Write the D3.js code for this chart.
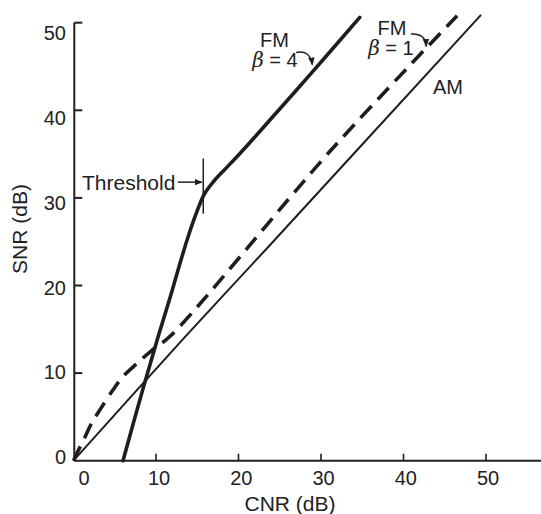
<!DOCTYPE html>
<html>
<head>
<meta charset="utf-8">
<script src="https://cdn.jsdelivr.net/npm/d3@7"></script>
<style>
  html, body { margin: 0; padding: 0; background: #fff; }
  svg { display: block; }
  text { font-family: "Liberation Sans", Arial, Helvetica, sans-serif; fill: #222; }
</style>
</head>
<body>
<svg id="chart" width="541" height="514"></svg>
<script>
// ---- Data ----
const xTicks = [0, 10, 20, 30, 40, 50];
const yTicks = [0, 10, 20, 30, 40, 50];

// FM, beta = 4 (solid, thick)
const fm4CNR = [6.0, 8.3, 10.3, 11.7, 12.9, 13.9, 14.9, 15.9, 17.0, 18.5, 20.2, 22.6, 28.7, 34.7];
const fm4SNR = [0.0, 7.8, 14.3, 18.6, 22.5, 25.6, 28.3, 30.5, 31.9, 33.4, 35.1, 37.6, 44.1, 50.6];

// FM, beta = 1 (dashed)
const fm1CNR = [0.0, 0.6, 1.4, 2.2, 3.2, 4.8, 6.0, 7.7, 9.5, 11.7, 31.45, 46.5];
const fm1SNR = [0.0, 1.2, 2.7, 4.3, 5.8, 8.1, 9.6, 11.1, 12.6, 14.2, 35.7, 50.8];

// AM (solid, thin)
const amCNR = [0.0, 13.3, 23.6, 49.4];
const amSNR = [0.0, 13.9, 24.4, 50.9];

// ---- Layout ----
const svg = d3.select("#chart");
const x = d3.scaleLinear().domain([0, 50]).range([73.5, 486]);
const y = d3.scaleLinear().domain([0, 50]).range([460.7, 22.7]);
// label placement scales (labels in the reference are not exactly at the ticks)
const xLab = d3.scaleLinear().domain([0, 10, 50]).range([84, 159, 488]);
const yLab = d3.scaleLinear().domain([0, 50]).range([457, 33]);

const ink = "#1e1e1e";

// arrowhead marker
const defs = svg.append("defs");
defs.append("marker")
  .attr("id", "arr")
  .attr("viewBox", "0 0 10 10")
  .attr("refX", 9).attr("refY", 5)
  .attr("markerWidth", 8).attr("markerHeight", 8)
  .attr("markerUnits", "userSpaceOnUse")
  .attr("orient", "auto")
  .append("path").attr("d", "M0,1 L10,5 L0,9 Z").attr("fill", ink);

// ---- Axes ----
const axisX0 = x(0) + 0.8;
svg.append("line")
  .attr("x1", axisX0).attr("x2", axisX0)
  .attr("y1", y(50)).attr("y2", y(0))
  .attr("stroke", ink).attr("stroke-width", 2);
svg.append("line")
  .attr("x1", axisX0).attr("x2", 541)
  .attr("y1", y(0)).attr("y2", y(0))
  .attr("stroke", ink).attr("stroke-width", 2);

// y ticks (pointing inward)
svg.selectAll(".yt").data(yTicks.filter(d => d > 0)).enter().append("line")
  .attr("x1", axisX0).attr("x2", axisX0 + 8)
  .attr("y1", d => y(d)).attr("y2", d => y(d))
  .attr("stroke", ink).attr("stroke-width", 2);
// x ticks (pointing inward)
svg.selectAll(".xt").data(xTicks.filter(d => d > 0)).enter().append("line")
  .attr("x1", d => x(d)).attr("x2", d => x(d))
  .attr("y1", y(0)).attr("y2", y(0) - 7)
  .attr("stroke", ink).attr("stroke-width", 1.6);

// tick labels
svg.selectAll(".yl").data(yTicks).enter().append("text")
  .attr("x", 66).attr("y", d => yLab(d)).attr("dy", "0.36em")
  .attr("text-anchor", "end").attr("font-size", 20)
  .text(d => d);
svg.selectAll(".xl").data(xTicks).enter().append("text")
  .attr("x", d => xLab(d)).attr("y", 485)
  .attr("text-anchor", "middle").attr("font-size", 20)
  .text(d => d);

// axis titles
svg.append("text")
  .attr("x", 290).attr("y", 511)
  .attr("text-anchor", "middle").attr("font-size", 21)
  .text("CNR (dB)");
svg.append("text")
  .attr("transform", "translate(26.5,229) rotate(-90)")
  .attr("text-anchor", "middle").attr("font-size", 21)
  .text("SNR (dB)");

// ---- Curves ----
const line = d3.line().x(d => x(d[0])).y(d => y(d[1])).curve(d3.curveCatmullRom.alpha(0.5));
const zip = (a, b) => a.map((v, i) => [v, b[i]]);

svg.append("path").datum(zip(amCNR, amSNR))
  .attr("d", line).attr("fill", "none")
  .attr("stroke", ink).attr("stroke-width", 2);

svg.append("path").datum(zip(fm1CNR, fm1SNR))
  .attr("d", line).attr("fill", "none")
  .attr("stroke", ink).attr("stroke-width", 3.6)
  .attr("stroke-dasharray", "16,9");

svg.append("path").datum(zip(fm4CNR, fm4SNR))
  .attr("d", line).attr("fill", "none")
  .attr("stroke", ink).attr("stroke-width", 3.6)
  .attr("stroke-linecap", "round");

// ---- Annotations ----
// Threshold marker
svg.append("line")
  .attr("x1", x(15.73)).attr("x2", x(15.73))
  .attr("y1", y(34.5)).attr("y2", y(28.2))
  .attr("stroke", ink).attr("stroke-width", 1.5);
svg.append("line")
  .attr("x1", x(12.65)).attr("x2", x(15.55))
  .attr("y1", y(31.8)).attr("y2", y(31.8))
  .attr("stroke", ink).attr("stroke-width", 1.5)
  .attr("marker-end", "url(#arr)");
svg.append("text")
  .attr("x", 82).attr("y", 189.5)
  .attr("font-size", 21)
  .text("Threshold");

// FM beta=4 label
svg.append("text").attr("x", 274.5).attr("y", 46.5)
  .attr("text-anchor", "middle").attr("font-size", 20).text("FM");
const b4 = svg.append("text").attr("x", 275).attr("y", 66.5)
  .attr("text-anchor", "middle").attr("font-size", 20);
b4.append("tspan").attr("font-style", "italic").attr("font-family", "DejaVu Serif, serif").text("β");
b4.append("tspan").text(" = 4");
const arrowPath = (p0, c, p1) => {
  const p = d3.path();
  p.moveTo(x(p0[0]), y(p0[1]));
  p.quadraticCurveTo(x(c[0]), y(c[1]), x(p1[0]), y(p1[1]));
  return p.toString();
};
svg.append("path")
  .attr("d", arrowPath([27.0, 46.6], [28.7, 46.9], [28.95, 45.2]))
  .attr("fill", "none").attr("stroke", ink).attr("stroke-width", 1.5)
  .attr("marker-end", "url(#arr)");

// FM beta=1 label
svg.append("text").attr("x", 392).attr("y", 34.5)
  .attr("text-anchor", "middle").attr("font-size", 20).text("FM");
const b1 = svg.append("text").attr("x", 391).attr("y", 54.5)
  .attr("text-anchor", "middle").attr("font-size", 20);
b1.append("tspan").attr("font-style", "italic").attr("font-family", "DejaVu Serif, serif").text("β");
b1.append("tspan").text(" = 1");
svg.append("path")
  .attr("d", arrowPath([40.9, 48.7], [42.7, 48.8], [42.75, 47.3]))
  .attr("fill", "none").attr("stroke", ink).attr("stroke-width", 1.5)
  .attr("marker-end", "url(#arr)");

// AM label
svg.append("text").attr("x", 448).attr("y", 94)
  .attr("text-anchor", "middle").attr("font-size", 20).text("AM");
</script>
</body>
</html>
